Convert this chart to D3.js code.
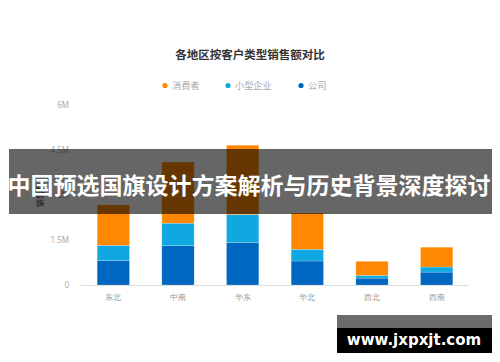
<!DOCTYPE html>
<html><head><meta charset="utf-8">
<script src="https://cdn.jsdelivr.net/npm/d3@7/dist/d3.min.js"></script>
<style>
html,body{margin:0;padding:0;background:#fff;}
svg{display:block;font-family:"Noto Sans CJK SC","Noto Sans",sans-serif;}
</style></head>
<body>
<svg id="c" width="500" height="362"></svg>
<script>
const categories = ["东北","中南","华东","华北","西北","西南"];
const seriesNames = ["公司","小型企业","消费者"];
const company = [0.81, 1.31, 1.42, 0.80, 0.23, 0.43];
const smallBiz = [0.51, 0.75, 0.93, 0.39, 0.09, 0.17];
const consumer = [1.35, 2.04, 2.31, 1.21, 0.47, 0.66];
const yTicks = [0, 1.5, 3, 4.5, 6];
const yTickLabels = ["0","1.5M","3M","4.5M","6M"];
const legendOrder = ["消费者","小型企业","公司"];
const colors = {"公司":"#0067C0","小型企业":"#10A8E0","消费者":"#FF8800"};

const svg = d3.select("#c");
const x = d3.scaleBand().domain(categories).range([81,469]).paddingInner(0.5).paddingOuter(0.25);
const y = d3.scaleLinear().domain([0,6]).range([285,105]);

svg.append("text").attr("x",250).attr("y",59).attr("text-anchor","middle")
  .attr("font-size",11.5).attr("font-weight","bold").attr("fill","#333").text("各地区按客户类型销售额对比");

// legend
const legX = {"消费者":165,"小型企业":228,"公司":301};
legendOrder.forEach(n=>{
  svg.append("circle").attr("cx",legX[n]).attr("cy",85.5).attr("r",2.6).attr("fill",colors[n]);
  svg.append("text").attr("x",legX[n]+7).attr("y",88.8).attr("font-size",9.2).attr("fill","#aaa").text(n);
});

// y axis
const yAxis = d3.axisLeft(y).tickValues(yTicks).tickFormat((d,i)=>yTickLabels[i]).tickSize(0).tickPadding(0);
const ga = svg.append("g").attr("transform","translate(69,0)").call(yAxis);
ga.select(".domain").remove();
ga.selectAll("text").attr("font-size",8).attr("fill","#aaa").attr("font-family","'Noto Sans',sans-serif");

svg.append("text").attr("transform","translate(43,195) rotate(-90)").attr("text-anchor","middle")
  .attr("font-size",8).attr("fill","#333").text("销售额");

// x axis
const xAxis = d3.axisBottom(x).tickSize(0).tickPadding(9);
const gx = svg.append("g").attr("transform","translate(0,285)").call(xAxis);
gx.select(".domain").attr("stroke","#ddd").attr("d","M81,0.5H469");
gx.selectAll("text").attr("font-size",8).attr("fill","#999");

// stacked bars
const rows = categories.map((c,i)=>({cat:c,"公司":company[i],"小型企业":smallBiz[i],"消费者":consumer[i]}));
const stack = d3.stack().keys(seriesNames)(rows);
stack.forEach(layer=>{
  svg.append("g").selectAll("rect").data(layer).join("rect")
    .attr("x",d=>x(d.data.cat)).attr("width",x.bandwidth())
    .attr("y",d=>y(d[1])).attr("height",d=>y(d[0])-y(d[1]))
    .attr("fill",colors[layer.key]).attr("stroke","rgba(255,255,255,0.35)").attr("stroke-width",0.6);
});

// banner overlay
svg.append("rect").attr("x",9).attr("y",149).attr("width",483).attr("height",65).attr("fill","rgba(0,0,0,0.6)");
svg.append("text").attr("x",249).attr("y",194).attr("text-anchor","middle").attr("font-size",23)
  .attr("font-weight","bold").attr("fill","#fff").text("中国预选国旗设计方案解析与历史背景深度探讨");

// watermark
svg.append("rect").attr("x",337).attr("y",315).attr("width",155).attr("height",13).attr("fill","#6b6b6b");
svg.append("rect").attr("x",337).attr("y",328).attr("width",155).attr("height",25).attr("fill","#000");
svg.append("text").attr("x",414).attr("y",345).attr("text-anchor","middle").attr("font-size",15)
  .attr("font-weight","bold").attr("font-family","'DejaVu Sans',sans-serif").attr("fill","#fff").text("www.jxpxjt.com");
</script>
</body></html>
